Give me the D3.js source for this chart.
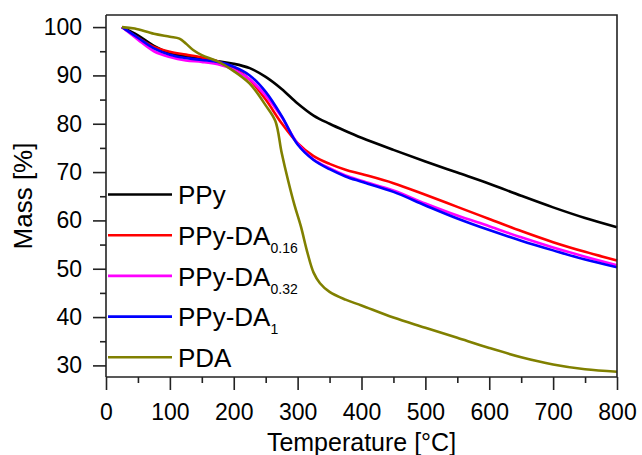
<!DOCTYPE html>
<html>
<head>
<meta charset="utf-8">
<script src="https://cdn.jsdelivr.net/npm/d3@7/dist/d3.min.js"></script>
<style>
  html, body { margin: 0; padding: 0; background: #fff; }
  svg { display: block; font-family: Arial, "Liberation Sans", sans-serif; }
</style>
</head>
<body>
<svg id="chart" width="642" height="455"></svg>
<script>
// Thermogravimetric curves: temperature (°C) vs. remaining mass (%)
const tempPPy = [25, 50, 75, 100, 125, 150, 175, 200, 225, 250, 275, 300, 325, 350, 375, 400, 450, 500, 550, 600, 650, 700, 750, 800];
const massPPy = [100, 98.3, 96.1, 94.6, 93.9, 93.4, 92.9, 92.4, 91.5, 89.7, 87.2, 84.2, 81.7, 80.0, 78.5, 77.1, 74.6, 72.2, 69.9, 67.6, 65.1, 62.7, 60.5, 58.6];

const tempDA016 = [25, 50, 75, 100, 125, 150, 175, 200, 225, 250, 275, 300, 325, 350, 375, 400, 450, 500, 550, 600, 650, 700, 750, 800];
const massDA016 = [100, 97.8, 95.9, 94.9, 94.3, 93.7, 92.9, 91.5, 89.1, 85.0, 80.1, 76.0, 73.3, 71.7, 70.5, 69.6, 67.7, 65.3, 62.8, 60.3, 57.8, 55.5, 53.5, 51.7];

const tempDA032 = [25, 50, 75, 100, 125, 150, 175, 200, 225, 250, 275, 300, 325, 350, 375, 400, 450, 500, 550, 600, 650, 700, 750, 800];
const massDA032 = [100, 97.4, 95.0, 93.8, 93.1, 92.8, 92.3, 91.2, 89.2, 85.8, 81.4, 75.9, 72.6, 70.8, 69.3, 68.2, 66.2, 63.5, 61.0, 58.8, 56.5, 54.4, 52.5, 50.7];

const tempDA1 = [25, 50, 75, 100, 125, 150, 175, 200, 225, 250, 275, 300, 325, 350, 375, 400, 450, 500, 550, 600, 650, 700, 750, 800];
const massDA1 = [100, 97.8, 95.6, 94.3, 93.6, 93.2, 92.8, 91.8, 90.0, 86.6, 81.6, 75.7, 72.5, 70.6, 69.1, 68.0, 65.9, 63.1, 60.4, 58.0, 55.8, 53.8, 51.9, 50.3];

const tempPDA = [25, 45, 75, 100, 115, 125, 137, 150, 175, 200, 225, 250, 265, 275, 285, 295, 305, 315, 325, 335, 350, 375, 400, 450, 500, 550, 600, 650, 700, 750, 800];
const massPDA = [100, 99.7, 98.6, 98.0, 97.6, 96.6, 95.2, 94.2, 92.9, 90.9, 88.3, 83.8, 80.6, 74.0, 68.3, 63.2, 58.8, 53.5, 49.2, 47.0, 45.2, 43.6, 42.4, 39.9, 37.8, 35.7, 33.6, 31.7, 30.2, 29.2, 28.7];

const seriesNames = ["PPy", "PPy-DA", "PPy-DA", "PPy-DA", "PDA"];
const seriesSubs = ["", "0.16", "0.32", "1", ""];
const seriesColors = ["#000000", "#ff0000", "#ff00ff", "#0000ff", "#808000"];
const seriesTemps = [tempPPy, tempDA016, tempDA032, tempDA1, tempPDA];
const seriesMass = [massPPy, massDA016, massDA032, massDA1, massPDA];

const xMajorTicks = [0, 100, 200, 300, 400, 500, 600, 700, 800];
const xMinorTicks = [50, 150, 250, 350, 450, 550, 650, 750];
const yMajorTicks = [30, 40, 50, 60, 70, 80, 90, 100];
const yMinorTicks = [35, 45, 55, 65, 75, 85, 95];

const svg = d3.select("#chart");
const plotLeft = 106, plotRight = 617, plotTop = 15, plotBottom = 377;

const x = d3.scaleLinear().domain([0, 800]).range([plotLeft, plotRight]);
const y = d3.scaleLinear().domain([27.6, 102.5]).range([plotBottom, plotTop]);

const axisColor = "#222";

// data curves
const line = d3.line()
  .x(d => x(d[0]))
  .y(d => y(d[1]))
  .curve(d3.curveCatmullRom.alpha(0.5));

const curves = svg.append("g");
seriesTemps.forEach((temps, i) => {
  const pts = temps.map((t, k) => [t, seriesMass[i][k]]);
  curves.append("path")
    .datum(pts)
    .attr("fill", "none")
    .attr("stroke", seriesColors[i])
    .attr("stroke-width", 2.6)
    .attr("stroke-linejoin", "round")
    .attr("d", line);
});

// frame (top and right)
svg.append("path")
  .attr("d", `M${plotLeft},${plotTop}H${plotRight}V${plotBottom}`)
  .attr("fill", "none")
  .attr("stroke", axisColor)
  .attr("stroke-width", 1.6);

// x axis
const xAxis = svg.append("g").attr("transform", `translate(0,${plotBottom})`)
  .call(d3.axisBottom(x).tickValues(xMajorTicks).tickSize(13).tickPadding(13).tickFormat(d3.format("d")));
svg.append("g").attr("transform", `translate(0,${plotBottom})`)
  .call(d3.axisBottom(x).tickValues(xMinorTicks).tickSize(6).tickFormat(""))
  .call(g => g.select(".domain").remove());

// y axis
const yAxis = svg.append("g").attr("transform", `translate(${plotLeft},0)`)
  .call(d3.axisLeft(y).tickValues(yMajorTicks).tickSize(13).tickPadding(11).tickFormat(d3.format("d")));
svg.append("g").attr("transform", `translate(${plotLeft},0)`)
  .call(d3.axisLeft(y).tickValues(yMinorTicks).tickSize(6).tickFormat(""))
  .call(g => g.select(".domain").remove());

xAxis.select(".domain").attr("d", `M${plotLeft},0H${plotRight}`);
yAxis.select(".domain").attr("d", `M0,${plotBottom}V${plotTop}`);
svg.selectAll(".domain").attr("stroke", axisColor).attr("stroke-width", 1.6);
svg.selectAll(".tick line").attr("stroke", axisColor).attr("stroke-width", 1.6);
svg.selectAll(".tick text")
  .attr("fill", "#000")
  .style("font-size", "23px")
  .style("font-family", "Arial, 'Liberation Sans', sans-serif");
xAxis.selectAll(".tick text").attr("dy", "0.72em");

// axis titles
svg.append("text")
  .attr("x", (plotLeft + plotRight) / 2)
  .attr("y", 451)
  .attr("text-anchor", "middle")
  .style("font-size", "25px")
  .text("Temperature [°C]");

svg.append("text")
  .attr("transform", `translate(32,${(plotTop + plotBottom) / 2}) rotate(-90)`)
  .attr("text-anchor", "middle")
  .style("font-size", "26px")
  .text("Mass [%]");

// legend
const legend = svg.append("g");
const legendY0 = 194.5, legendStep = 40.7;
seriesNames.forEach((name, i) => {
  const ly = legendY0 + i * legendStep;
  legend.append("line")
    .attr("x1", 108).attr("x2", 172)
    .attr("y1", ly).attr("y2", ly)
    .attr("stroke", seriesColors[i])
    .attr("stroke-width", 2.6);
  const t = legend.append("text")
    .attr("x", 178)
    .attr("y", ly + 9.8)
    .style("font-size", "26px")
    .text(name);
  if (seriesSubs[i]) {
    t.append("tspan")
      .attr("dy", 8)
      .style("font-size", "14px")
      .text(seriesSubs[i]);
  }
});
</script>
</body>
</html>
